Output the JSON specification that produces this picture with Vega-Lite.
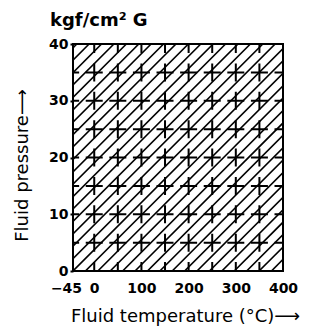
{
  "$schema": "https://vega.github.io/schema/vega-lite/v6.json",
  "autosize": "none",
  "width": 210,
  "height": 227,
  "padding": {"left": 73, "top": 44, "right": 27, "bottom": 58},
  "background": "white",
  "config": {
    "font": "DejaVu Sans",
    "view": {"stroke": "black", "strokeWidth": 2},
    "axis": {"domain": false, "grid": false, "labelColor": "black", "titleColor": "black", "labelFontWeight": "bold", "titleFontWeight": "normal"}
  },
  "title": {"text": "kgf/cm² G", "anchor": "start", "frame": "group", "dx": -23, "dy": 24, "offset": 17, "baseline": "alphabetic", "fontSize": 18, "fontWeight": "bold", "color": "black"},
  "encoding": {
    "x": {
      "field": "x", "type": "quantitative",
      "scale": {"domain": [-45, 400], "nice": false, "zero": false},
      "axis": {
        "values": [-45, 0, 100, 200, 300, 400],
        "ticks": false,
        "labelFontSize": 14,
        "labelPadding": 10,
        "labelOffset": {"condition": {"test": "datum.value == -45", "value": -7}, "value": 0},
        "labelFlush": false,
        "labelOverlap": false,
        "title": "Fluid temperature (°C)⟶",
        "titleFontSize": 18,
        "titleX": 112,
        "titleY": 45,
        "titleBaseline": "middle",
        "titleAlign": "center"
      }
    },
    "y": {
      "field": "y", "type": "quantitative",
      "scale": {"domain": [0, 40], "nice": false, "zero": false},
      "axis": {
        "values": [0, 10, 20, 30, 40],
        "tickSize": 3,
        "tickColor": "black",
        "tickWidth": 2,
        "labelFontSize": 14,
        "labelPadding": 2,
        "labelFlush": false,
        "labelOverlap": false,
        "title": "Fluid pressure⟶",
        "titleFontSize": 18,
        "titleAngle": -90,
        "titleX": -51,
        "titleY": 121,
        "titleBaseline": "middle",
        "titleAlign": "center"
      }
    }
  },
  "layer": [
    {
      "data": {"values": [
        {"x": -518.0, "x2": -37.0, "y": 0, "y2": 40},
        {"x": -491.8, "x2": -10.8, "y": 0, "y2": 40},
        {"x": -465.5, "x2": 15.5, "y": 0, "y2": 40},
        {"x": -439.2, "x2": 41.8, "y": 0, "y2": 40},
        {"x": -412.9, "x2": 68.1, "y": 0, "y2": 40},
        {"x": -386.6, "x2": 94.4, "y": 0, "y2": 40},
        {"x": -360.4, "x2": 120.6, "y": 0, "y2": 40},
        {"x": -334.1, "x2": 146.9, "y": 0, "y2": 40},
        {"x": -307.8, "x2": 173.2, "y": 0, "y2": 40},
        {"x": -281.5, "x2": 199.5, "y": 0, "y2": 40},
        {"x": -255.2, "x2": 225.8, "y": 0, "y2": 40},
        {"x": -229.0, "x2": 252.0, "y": 0, "y2": 40},
        {"x": -202.7, "x2": 278.3, "y": 0, "y2": 40},
        {"x": -176.4, "x2": 304.6, "y": 0, "y2": 40},
        {"x": -150.1, "x2": 330.9, "y": 0, "y2": 40},
        {"x": -123.8, "x2": 357.2, "y": 0, "y2": 40},
        {"x": -97.6, "x2": 383.4, "y": 0, "y2": 40},
        {"x": -71.3, "x2": 409.7, "y": 0, "y2": 40},
        {"x": -45.0, "x2": 436.0, "y": 0, "y2": 40},
        {"x": -18.7, "x2": 462.3, "y": 0, "y2": 40},
        {"x": 7.6, "x2": 488.6, "y": 0, "y2": 40},
        {"x": 33.8, "x2": 514.8, "y": 0, "y2": 40},
        {"x": 60.1, "x2": 541.1, "y": 0, "y2": 40},
        {"x": 86.4, "x2": 567.4, "y": 0, "y2": 40},
        {"x": 112.7, "x2": 593.7, "y": 0, "y2": 40},
        {"x": 139.0, "x2": 620.0, "y": 0, "y2": 40},
        {"x": 165.2, "x2": 646.2, "y": 0, "y2": 40},
        {"x": 191.5, "x2": 672.5, "y": 0, "y2": 40},
        {"x": 217.8, "x2": 698.8, "y": 0, "y2": 40},
        {"x": 244.1, "x2": 725.1, "y": 0, "y2": 40},
        {"x": 270.4, "x2": 751.4, "y": 0, "y2": 40},
        {"x": 296.7, "x2": 777.7, "y": 0, "y2": 40},
        {"x": 322.9, "x2": 803.9, "y": 0, "y2": 40},
        {"x": 349.2, "x2": 830.2, "y": 0, "y2": 40},
        {"x": 375.5, "x2": 856.5, "y": 0, "y2": 40}
      ]},
      "mark": {"type": "rule", "clip": true, "color": "black", "strokeWidth": 1.6},
      "encoding": {
        "x2": {"field": "x2"},
        "y2": {"field": "y2"}
      }
    },
    {
      "data": {"values": [
        {"x": 0, "y": 0, "y2": 40},
        {"x": 50, "y": 0, "y2": 40},
        {"x": 100, "y": 0, "y2": 40},
        {"x": 150, "y": 0, "y2": 40},
        {"x": 200, "y": 0, "y2": 40},
        {"x": 250, "y": 0, "y2": 40},
        {"x": 300, "y": 0, "y2": 40},
        {"x": 350, "y": 0, "y2": 40}
      ]},
      "mark": {"type": "rule", "clip": true, "color": "black", "strokeWidth": 2, "strokeDash": [18, 10.375], "strokeDashOffset": 9},
      "encoding": {
        "y2": {"field": "y2"}
      }
    },
    {
      "data": {"values": [
        {"x": -45, "x2": 400, "y": 5},
        {"x": -45, "x2": 400, "y": 10},
        {"x": -45, "x2": 400, "y": 15},
        {"x": -45, "x2": 400, "y": 20},
        {"x": -45, "x2": 400, "y": 25},
        {"x": -45, "x2": 400, "y": 30},
        {"x": -45, "x2": 400, "y": 35}
      ]},
      "mark": {"type": "rule", "clip": true, "color": "black", "strokeWidth": 2, "strokeDash": [17, 6.596], "strokeDashOffset": 10.86},
      "encoding": {
        "x2": {"field": "x2"}
      }
    }
  ]
}
